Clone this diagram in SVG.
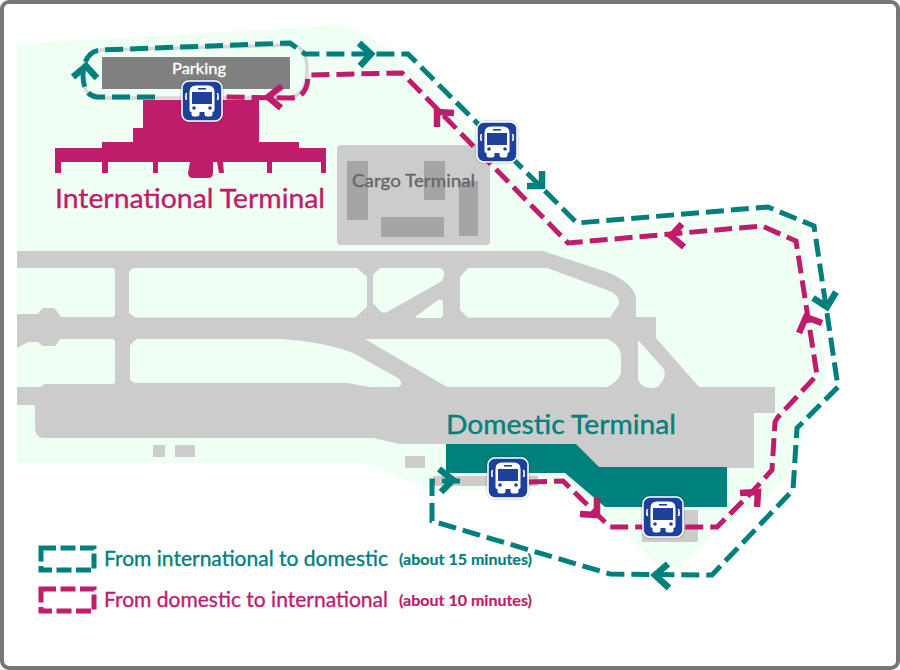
<svg xmlns="http://www.w3.org/2000/svg" width="900" height="670" viewBox="0 0 900 670">
<style>
.land{fill:#f0fff3}
.gray{fill:#ccc}
.hole{fill:#f0fff3}
.route{fill:none;stroke-width:5;stroke-dasharray:18 7}
.teal{stroke:#00807c}
.mag{stroke:#c01c6c}
.chev{fill:none;stroke-width:6.5;stroke-linejoin:miter}
text{font-family:"Lato","Liberation Sans",sans-serif}
.tt{fill:#00807c;stroke:#00807c;stroke-width:.35}
.tm{fill:#c01c6c;stroke:#c01c6c;stroke-width:.35}
.sm{stroke-width:.2}
</style>
<defs>
<filter id="sh" x="-20%" y="-20%" width="140%" height="140%"><feDropShadow dx="0" dy="0" stdDeviation="1.2" flood-color="#000" flood-opacity=".4"/></filter>
<g id="bus">
<rect x="-20" y="-20" width="40" height="40" rx="7" fill="#1f419b" stroke="#fff" stroke-width="1.5" filter="url(#sh)"/>
<path fill="#fff" d="M-12.500,-9 Q-12.500,-15.500 -6,-15.500 H6 Q12.500,-15.500 12.500,-9 V9 Q12.500,11 10.500,11 V13 Q10.500,15.500 8,15.500 H5 Q2.500,15.500 2.500,13 V11 H-2.500 V13 Q-2.500,15.500 -5,15.500 H-8 Q-10.500,15.500 -10.500,13 V11 Q-12.500,11 -12.500,9 Z"/>
<rect x="-10" y="-9" width="20" height="12" fill="#1f419b"/>
<rect x="-4" y="-13" width="8" height="1.600" fill="#1f419b"/>
<circle cx="-8" cy="7" r="1.800" fill="#1f419b"/>
<circle cx="8" cy="7" r="1.800" fill="#1f419b"/>
<path d="M-15.500,-8 Q-17,-4.500 -15.500,-1 M15.500,-8 Q17,-4.500 15.500,-1" fill="none" stroke="#fff" stroke-width="1.600"/>
</g>
</defs>
<rect x="0" y="0" width="900" height="670" fill="#fff"/>

<g id="land">
<path class="land" d="M17,44 L340,25 Q375,35 400,58 L570,233 L660,223 L768,214 L800,225 L827,375 L817,403 L807,427 L790,473 L777,490 L713,537 L677,567 L658,567 L620,527 L565,490 L433,490 L400,478 L363,463 L17,463 Z"/>
</g>

<g id="airfield">
<path class="gray" d="M17,251 L543,251 L607,272 Q632,282 636,297 L636,317 L656,317 L656,338 L699,387 L775,387 L775,413 L754,413 L754,468 L599,468 L576,444 L400,444 L373,438 L45,438 Q35,438 35,428 L35,405 L17,405 Z"/>
<path class="hole" d="M17,268 L112,268 Q115,268 115,271 L115,314 Q115,317 112,317 L61,317 L56,310 Q55,308 53,308 L44,308 Q42,308 41,310 L38,314 L17,314 Z"/>
<path class="hole" d="M17,348 L28,342 L38,342 L43,346 L55,346 L60,339 L112,339 Q115,339 115,342 L115,381 Q115,384 112,384 L45,384 L40,387 L17,387 Z"/>
<path class="hole" d="M133,268 L357,268 L367,277 L367,307 L355,317.500 L135,317.500 L129,313 L129,272 Z"/>
<path class="hole" d="M380,268 L440,268 Q445,270 444,275 L442,281 L387,312 Q383,314 380,311 L373,303 L373,275 Z"/>
<path class="hole" d="M415,317 L438,300 Q442,298 443,303 L443,315 L441,318 L416,318 Z"/>
<path class="hole" d="M468,268 L547,268 L607,290 Q620,295 619,304 L610,317.500 L468,317.500 L460,310 L460,277 Z"/>
<path class="hole" d="M137,339 L283,339 Q325,342 353,353 L398,378 Q402,381 401,385 L398,387 L370,387 L347,383 L135,383 L130,380 L130,345 Z"/>
<path class="hole" d="M365,339 L607,339 Q621,345 621,357 L621,373 Q618,382 607,387 L447,387 Z"/>
<path class="hole" d="M638,340 L663,368 Q666,372 664,378 Q660,388 652,388 Q642,388 638,380 Z"/>
<rect class="gray" x="153" y="445" width="12" height="12"/>
<rect class="gray" x="175" y="445" width="20" height="12"/>
<rect class="gray" x="405" y="456" width="20" height="12"/>
<rect class="gray" x="433" y="476" width="105" height="10"/>
<rect class="gray" x="642" y="510" width="56" height="32"/>
</g>

<g id="cargo-terminal">
<rect class="gray" x="337" y="145" width="153" height="100" rx="4"/>
<g fill="#a5a5a5">
<rect x="347" y="161" width="21" height="59"/>
<rect x="424" y="161" width="21" height="39"/>
<rect x="459" y="181" width="19" height="55"/>
<rect x="381" y="217" width="63" height="20"/>
</g>
<text x="352" y="187" font-size="17" fill="#666" stroke="#666" stroke-width=".3" textLength="123" lengthAdjust="spacingAndGlyphs">Cargo Terminal</text>
</g>

<g id="international-terminal">
<path fill="#c01c6c" d="M143,100 L259,100 L259,142 L299,142 L299,148 L326,148 L326,173 L321,173 L321,162 L272,162 L272,173 L267,173 L267,162 L223,162 L224,173 L219,173 L217,162 L213,162 L213,173 Q213,178 208,178 L193,178 Q188,178 188,173 L190,162 L158,162 L158,173 L153,173 L153,162 L108,162 L108,173 L102,173 L102,162 L61,162 L61,173 L55,173 L55,148 L102,148 L102,142 L133,142 L133,128 L143,128 Z"/>
<text class="tm" x="55" y="208" font-size="26.500" textLength="270" lengthAdjust="spacingAndGlyphs">International Terminal</text>
</g>

<g id="domestic-terminal">
<path fill="#00807c" d="M446,444 L576,444 L599,467 L727,467 L727,507 L605,507 L565,473 L446,473 Z"/>
<text class="tt" x="446" y="434" font-size="26.500" textLength="230" lengthAdjust="spacingAndGlyphs">Domestic Terminal</text>
</g>

<g id="parking">
<path fill="none" stroke="#d8d8d8" stroke-width="3.500" d="M100,50 L290,45 Q307,45 307,70 Q307,98 285,98 L100,98 Q83,98 83,75 Q83,50 100,50 Z"/>
<rect x="102" y="57" width="188" height="32" fill="#808080"/>
<text x="172" y="74" font-size="15" fill="#fff" stroke="#fff" stroke-width=".3" textLength="54" lengthAdjust="spacingAndGlyphs">Parking</text>
</g>

<g id="connectors">
<path class="route teal" d="M155,97 L97,97 Q83,95 83,75 Q84,52 100,50 L290,43 L305,54 L408,54 L577,223 L768,207 L814,226 L838,387 L797,428 L793,490 L712,575 L610,574 L432,521 L432,481 L464,481"/>
<path class="route mag" d="M529,482 L563,481 L610,527 L717,527 L752,492 L772,470 L775,422 L778,417 L817,375 L796,241 L762,226 L568,243 L402,73 L308,75 Q308,98 290,98 L223,97"/>
<g class="chev teal">
<path d="M73,77 L86,66 L97,78"/>
<path d="M359,43 L371,54 L360,66"/>
<path d="M542,171 L542,186 L527,186"/>
<path d="M836,292 L827,307 L813,298"/>
<path d="M668,564 L655,575 L669,588"/>
<path d="M439,469 L453,480 L441,492"/>
</g>
<g class="chev mag">
<path d="M282,86 L268,97 L281,108"/>
<path d="M454,113 L437,112 L437,127"/>
<path d="M684,247 L671,236 L682,224"/>
<path d="M822,323 L806,317 L799,333"/>
<path d="M597,498 L597,515 L580,514"/>
<path d="M740,493 L758,492 L757,507"/>
</g>
</g>

<g id="bus-parking"><use href="#bus" x="202" y="101"/></g>
<g id="bus-midway"><use href="#bus" x="497" y="142"/></g>
<g id="bus-domestic-1"><use href="#bus" x="508" y="478"/></g>
<g id="bus-domestic-2"><use href="#bus" x="663" y="517"/></g>

<g id="legend">
<rect class="route teal" x="41" y="548" width="53" height="22" style="stroke-dasharray:15 4.500"/>
<rect class="route mag" x="41" y="589" width="53" height="22" style="stroke-dasharray:15 4.500"/>
<text class="tt" x="104" y="566" font-size="21" textLength="284" lengthAdjust="spacingAndGlyphs">From international to domestic</text>
<text class="tm" x="104" y="607" font-size="21" textLength="284" lengthAdjust="spacingAndGlyphs">From domestic to international</text>
<text class="tt sm" x="399" y="565" font-size="15" font-weight="700" textLength="133" lengthAdjust="spacingAndGlyphs">(about 15 minutes)</text>
<text class="tm sm" x="399" y="606" font-size="15" font-weight="700" textLength="133" lengthAdjust="spacingAndGlyphs">(about 10 minutes)</text>
</g>

<rect id="frame" x="2" y="2" width="896" height="666" rx="7" fill="none" stroke="#777" stroke-width="4"/>
</svg>
